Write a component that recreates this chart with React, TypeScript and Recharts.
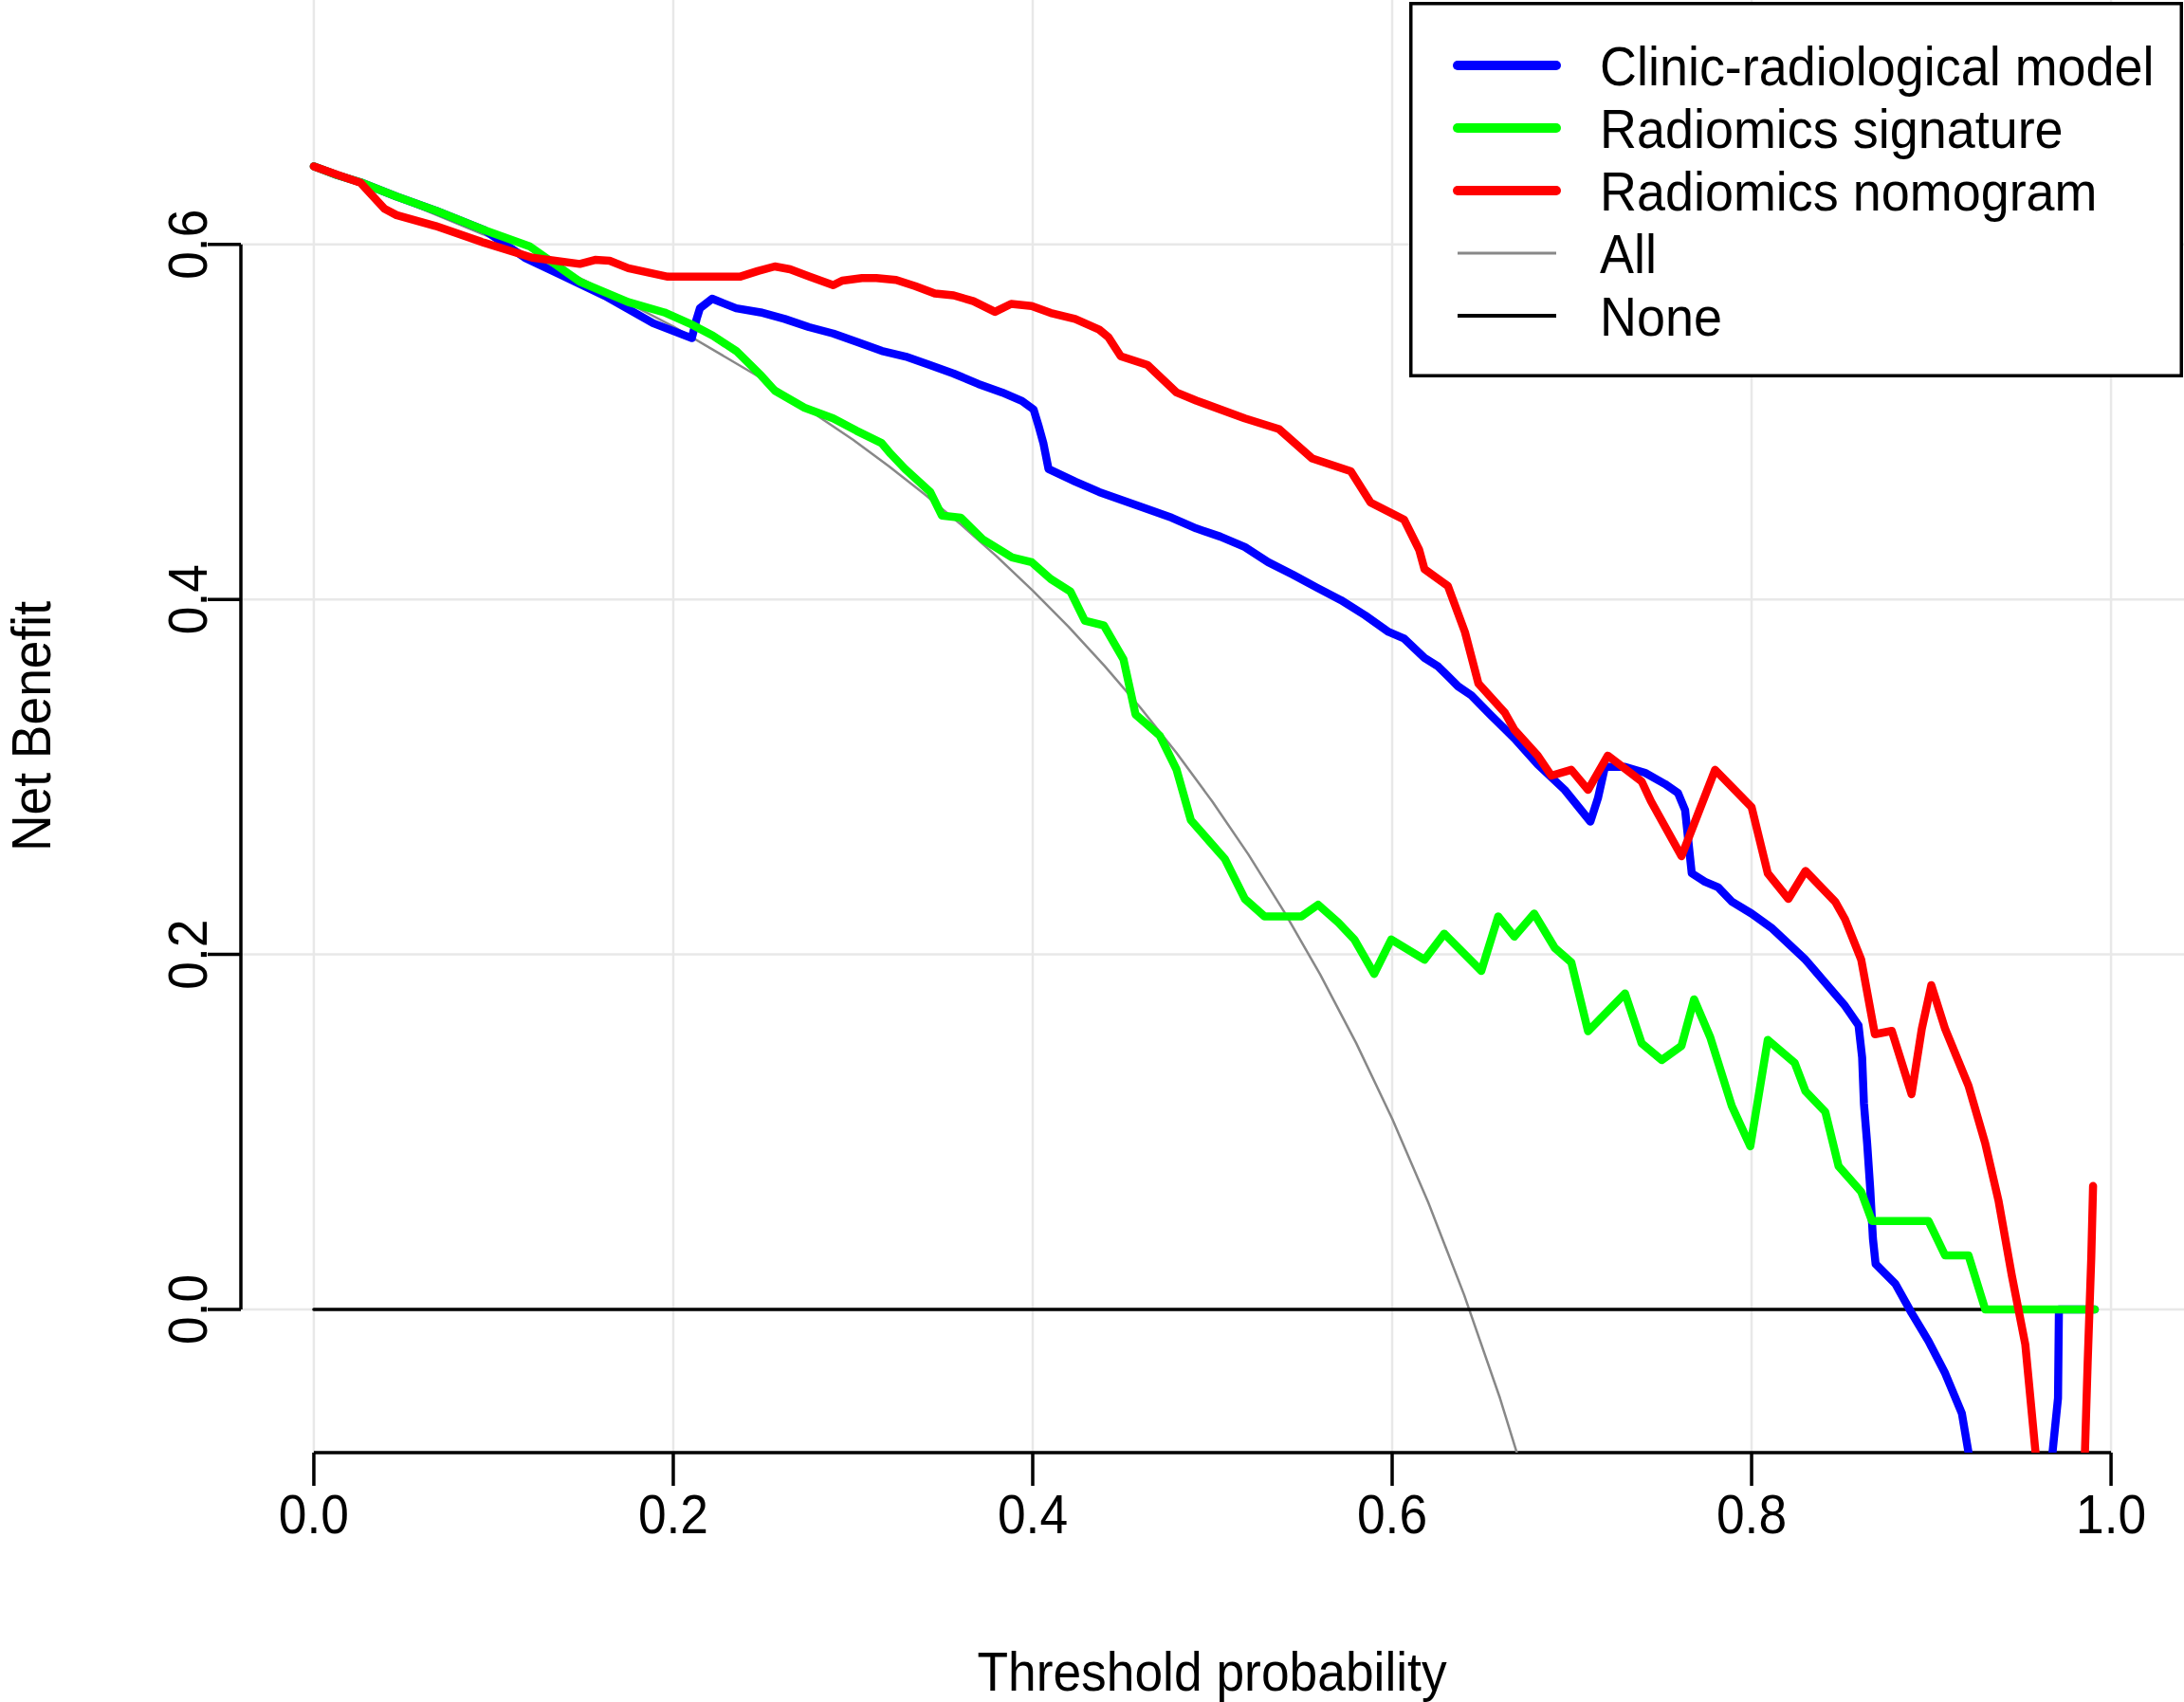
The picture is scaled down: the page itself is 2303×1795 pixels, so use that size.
import React from "react";
import {
  CartesianGrid,
  ComposedChart,
  Legend,
  Line,
  ReferenceLine,
  XAxis,
  YAxis,
} from "recharts";

document.body.style.margin = "0";

const FONT = "'Liberation Sans', Arial, sans-serif";

// threshold probabilities and net benefit
const clinicX = [
  0, 0.013, 0.026, 0.046, 0.068, 0.095, 0.1174, 0.135, 0.162, 0.1888, 0.2103,
  0.213, 0.2148, 0.2216, 0.235, 0.2486, 0.262, 0.2755, 0.289, 0.3024, 0.316,
  0.3293, 0.3428, 0.356, 0.3697, 0.383, 0.394, 0.4005, 0.4034, 0.406, 0.4088,
  0.4236, 0.437, 0.4505, 0.464, 0.4774, 0.491, 0.5043, 0.518, 0.531, 0.5447,
  0.558, 0.5715, 0.585, 0.598, 0.6066, 0.618, 0.6256, 0.6367, 0.644, 0.655,
  0.668, 0.681, 0.696, 0.7103, 0.7145, 0.7184, 0.7296, 0.7407, 0.7518, 0.759,
  0.763, 0.7667, 0.774, 0.7815, 0.789, 0.8, 0.811, 0.83, 0.841, 0.852, 0.8595,
  0.8615, 0.8625, 0.8643, 0.866, 0.8675, 0.869, 0.88, 0.889, 0.8985, 0.9077,
  0.917, 0.9207, 0.925, 0.965, 0.9675, 0.9705, 0.971, 0.991,
];
const clinicNB = [
  0.644, 0.639, 0.635, 0.627, 0.619, 0.608, 0.5925, 0.584, 0.571, 0.5556,
  0.5472, 0.558, 0.564, 0.5694, 0.564, 0.5617, 0.558, 0.5534, 0.5498, 0.545,
  0.54, 0.5368, 0.532, 0.5272, 0.5214, 0.5166, 0.5118, 0.507, 0.4973, 0.4877,
  0.4735, 0.4664, 0.4605, 0.4557, 0.4508, 0.446, 0.44, 0.4354, 0.4295, 0.421,
  0.414, 0.4067, 0.3996, 0.391, 0.3817, 0.378, 0.367, 0.3622, 0.351, 0.346,
  0.3347, 0.3217, 0.307, 0.2927, 0.2748, 0.288, 0.3056, 0.3056, 0.3023, 0.296,
  0.291, 0.2813, 0.2457, 0.241, 0.2377, 0.2297, 0.223, 0.215, 0.197, 0.184,
  0.171, 0.16, 0.142, 0.116, 0.0935, 0.068, 0.04, 0.0256, 0.0144, -0.002,
  -0.018, -0.036, -0.0586, -0.0807, -0.12, -0.12, -0.08, -0.05, 0, 0,
];

const signatureX = [
  0, 0.013, 0.026, 0.046, 0.068, 0.095, 0.12, 0.148, 0.175, 0.195, 0.211,
  0.222, 0.235, 0.249, 0.2565, 0.273, 0.289, 0.302, 0.316, 0.321, 0.329, 0.343,
  0.3495, 0.36, 0.372, 0.3885, 0.3994, 0.41, 0.421, 0.429, 0.4396, 0.4505,
  0.4572, 0.4707, 0.48, 0.488, 0.507, 0.518, 0.529, 0.5495, 0.5588, 0.57,
  0.579, 0.59, 0.5995, 0.618, 0.629, 0.6496, 0.659, 0.668, 0.679, 0.6905,
  0.6997, 0.709, 0.7296, 0.7388, 0.75, 0.761, 0.768, 0.777, 0.789, 0.7993,
  0.809, 0.824, 0.83, 0.841, 0.8484, 0.861, 0.867, 0.8984, 0.9077, 0.9207,
  0.93, 0.991,
];
const signatureNB = [
  0.644, 0.639, 0.635, 0.627, 0.619, 0.608, 0.599, 0.579, 0.5675, 0.5617,
  0.5545, 0.5486, 0.54, 0.526, 0.5176, 0.508, 0.502, 0.495, 0.488, 0.482,
  0.4735, 0.4605, 0.4472, 0.446, 0.434, 0.4236, 0.421, 0.4115, 0.4044, 0.388,
  0.3853, 0.3662, 0.3352, 0.3232, 0.3042, 0.2756, 0.2537, 0.2313, 0.2214,
  0.2214, 0.228, 0.218, 0.2084, 0.189, 0.2084, 0.197, 0.2117, 0.1907, 0.2214,
  0.21, 0.223, 0.2036, 0.1955, 0.1567, 0.178, 0.15, 0.1405, 0.1485, 0.1747,
  0.1533, 0.1146, 0.0919, 0.1518, 0.1389, 0.1229, 0.1113, 0.0807, 0.0662,
  0.0498, 0.0498, 0.0304, 0.0304, 0, 0,
];

const nomogramX = [
  0, 0.0137, 0.026, 0.0394, 0.046, 0.0677, 0.0946, 0.1215, 0.148, 0.1565,
  0.1646, 0.175, 0.197, 0.237, 0.247, 0.2565, 0.265, 0.2755, 0.289, 0.294,
  0.305, 0.313, 0.324, 0.3346, 0.3455, 0.356, 0.367, 0.379, 0.388, 0.3994,
  0.41, 0.4236, 0.437, 0.4422, 0.449, 0.464, 0.48, 0.491, 0.518, 0.537, 0.5555,
  0.577, 0.588, 0.6066, 0.615, 0.618, 0.631, 0.6405, 0.648, 0.6628, 0.668,
  0.681, 0.6886, 0.6997, 0.709, 0.72, 0.7388, 0.744, 0.761, 0.7797, 0.8,
  0.809, 0.8205, 0.83, 0.8465, 0.852, 0.861, 0.8686, 0.878, 0.889, 0.8947,
  0.9, 0.9077, 0.9207, 0.93, 0.9374, 0.9448, 0.9523, 0.958, 0.961, 0.984,
  0.987, 0.989, 0.99,
];
const nomogramNB = [
  0.644, 0.639, 0.6347, 0.62, 0.6165, 0.6104, 0.601, 0.5925, 0.589, 0.5913,
  0.5908, 0.5866, 0.5818, 0.5818, 0.585, 0.5876, 0.586, 0.582, 0.577, 0.5796,
  0.581, 0.581, 0.58, 0.5765, 0.5724, 0.5713, 0.568, 0.562, 0.5665, 0.5653,
  0.5614, 0.558, 0.552, 0.5476, 0.537, 0.532, 0.5166, 0.512, 0.502, 0.496,
  0.4794, 0.4722, 0.4546, 0.445, 0.428, 0.417, 0.4076, 0.3816, 0.3526, 0.336,
  0.3266, 0.312, 0.3007, 0.304, 0.2927, 0.312, 0.2975, 0.2863, 0.2553, 0.304,
  0.283, 0.2457, 0.2313, 0.247, 0.2297, 0.2198, 0.197, 0.155, 0.1569, 0.1213,
  0.158, 0.1827, 0.158, 0.126, 0.0935, 0.0612, 0.019, -0.0198, -0.0807, -0.13,
  -0.13, -0.03, 0.029, 0.0695,
];

const allX = [
  0, 0.05, 0.1, 0.15, 0.2, 0.25, 0.3, 0.32, 0.34, 0.36, 0.38, 0.4, 0.42, 0.44,
  0.46, 0.48, 0.5, 0.52, 0.54, 0.56, 0.58, 0.6, 0.62, 0.64, 0.66, 0.68,
];
const allNB = [
  0.643, 0.6242, 0.6033, 0.58, 0.5538, 0.524, 0.49, 0.475, 0.4591, 0.4422,
  0.4242, 0.405, 0.3845, 0.3625, 0.3389, 0.3135, 0.286, 0.2563, 0.2239, 0.1886,
  0.15, 0.1075, 0.0605, 0.0083, -0.05, -0.1156,
];

const noneX = [0, 0.99];
const noneNB = [0, 0];

const xTicks = [0, 0.2, 0.4, 0.6, 0.8, 1.0];
const yTicks = [0, 0.2, 0.4, 0.6];

const X_MIN = -0.0406;
const X_MAX = 1.0406;
const Y_MIN = -0.0807;
const Y_MAX = 0.7377;

const toRows = (xs: number[], ys: number[]) =>
  xs.map((x, i) => ({ x, y: ys[i] }));

const series = [
  { name: "Clinic-radiological model", color: "#0000ff", width: 10, data: toRows(clinicX, clinicNB) },
  { name: "Radiomics signature", color: "#00ff00", width: 10, data: toRows(signatureX, signatureNB) },
  { name: "Radiomics nomogram", color: "#ff0000", width: 10, data: toRows(nomogramX, nomogramNB) },
  { name: "All", color: "#888888", width: 3, data: toRows(allX, allNB) },
  { name: "None", color: "#000000", width: 4, data: toRows(noneX, noneNB) },
];

function XTick({ x, y, payload }: any) {
  return (
    <g>
      <line x1={x} x2={x} y1={y} y2={y + 35} stroke="#000" strokeWidth={3.5} />
      <text
        transform={`translate(${x},${y + 85}) scale(0.92,1)`}
        textAnchor="middle"
        fontSize={58}
        fontFamily={FONT}
        fill="#000"
      >
        {Number(payload.value).toFixed(1)}
      </text>
    </g>
  );
}

function YTick({ x, y, payload }: any) {
  return (
    <g>
      <line x1={x - 35} x2={x} y1={y} y2={y} stroke="#000" strokeWidth={3.5} />
      <text
        transform={`translate(${x - 36},${y}) rotate(-90) scale(0.92,1)`}
        textAnchor="middle"
        fontSize={58}
        fontFamily={FONT}
        fill="#000"
      >
        {Number(payload.value).toFixed(1)}
      </text>
    </g>
  );
}

function XTitle() {
  return (
    <text
      transform="translate(1278,1783) scale(0.92,1)"
      textAnchor="middle"
      fontSize={58}
      fontFamily={FONT}
      fill="#000"
    >
      Threshold probability
    </text>
  );
}

function YTitle() {
  return (
    <text
      transform="translate(53,766) rotate(-90) scale(0.92,1)"
      textAnchor="middle"
      fontSize={58}
      fontFamily={FONT}
      fill="#000"
    >
      Net Benefit
    </text>
  );
}

function LegendBox() {
  return (
    <svg width={816} height={396} style={{ display: "block" }}>
      <rect x={1.75} y={1.75} width={812.5} height={392.5} fill="#fff" stroke="#000" strokeWidth={3.5} />
      {series.map((s, i) => (
        <g key={s.name}>
          <line
            x1={51}
            x2={155}
            y1={67 + 66 * i}
            y2={67 + 66 * i}
            stroke={s.color}
            strokeWidth={s.width}
            strokeLinecap={s.width > 5 ? "round" : "butt"}
          />
          <text
            transform={`translate(201,${88 + 66 * i}) scale(0.93,1)`}
            fontSize={58}
            fontFamily={FONT}
            fill="#000"
          >
            {s.name}
          </text>
        </g>
      ))}
    </svg>
  );
}

export default function App() {
  // reference curves first so the model curves sit on top
  const drawOrder = [series[3], series[4], series[0], series[1], series[2]];
  return (
    <div style={{ width: 2303, height: 1795, background: "#fff" }}>
      <ComposedChart width={2303} height={1795} margin={{ top: 0, right: 0, bottom: 0, left: 0 }}>
        <CartesianGrid stroke="#e8e8e8" strokeWidth={2.5} syncWithTicks />
        <XAxis
          type="number"
          dataKey="x"
          domain={[X_MIN, X_MAX]}
          ticks={xTicks}
          interval={0}
          allowDataOverflow
          height={263}
          axisLine={false}
          tickLine={false}
          tickSize={0}
          tickMargin={0}
          tick={<XTick />}
          label={<XTitle />}
        />
        <YAxis
          type="number"
          domain={[Y_MIN, Y_MAX]}
          ticks={yTicks}
          interval={0}
          allowDataOverflow
          width={254}
          axisLine={false}
          tickLine={false}
          tickSize={0}
          tickMargin={0}
          tick={<YTick />}
          label={<YTitle />}
        />
        <ReferenceLine
          segment={[{ x: 0, y: Y_MIN }, { x: 1, y: Y_MIN }]}
          stroke="#000"
          strokeWidth={3.5}
          ifOverflow="visible"
        />
        <ReferenceLine
          segment={[{ x: X_MIN, y: 0 }, { x: X_MIN, y: 0.6 }]}
          stroke="#000"
          strokeWidth={3.5}
          ifOverflow="visible"
        />
        {drawOrder.map((s) => (
          <Line
            key={s.name}
            name={s.name}
            data={s.data}
            dataKey="y"
            type="linear"
            stroke={s.color}
            strokeWidth={s.width > 5 ? 8.5 : s.width - 0.5}
            strokeLinejoin="round"
            strokeLinecap="round"
            dot={false}
            activeDot={false}
            isAnimationActive={false}
          />
        ))}
        <Legend
          layout="vertical"
          verticalAlign="middle"
          align="center"
          wrapperStyle={{ position: "absolute", left: 1486, top: 2, width: 816, height: 396 }}
          content={() => <LegendBox />}
        />
      </ComposedChart>
    </div>
  );
}
